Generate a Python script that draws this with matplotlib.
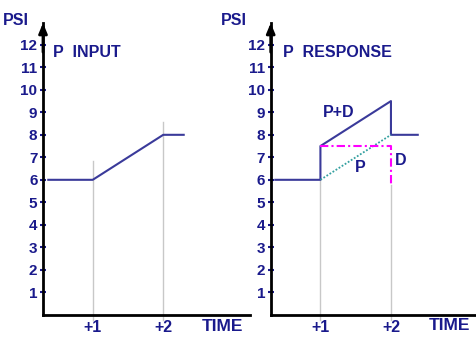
import matplotlib
matplotlib.use("Agg")
import matplotlib.pyplot as plt

plt.rcParams['font.family'] = ['Liberation Sans', 'DejaVu Sans']
plt.rcParams['font.weight'] = 'bold'

NAVY = '#1a1a8c'
LINE = '#3a3a9a'

# data
psi_ticks = list(range(1, 13))
time_ticks = [1, 2]
time_labels = ['+1', '+2']

input_t = [0.37, 1, 2, 2.29]
input_p = [6, 6, 8, 8]

pd_t = [0.36, 1, 1, 2, 2, 2.38]
pd_p = [6, 6, 7.5, 9.5, 8, 8]

p_t = [1, 2]
p_p = [6, 8]

d_t = [1, 2, 2]
d_p = [7.5, 7.5, 5.75]

# grid line tops (where the gray markers start)
grid_top_left = [6.84, 8.57]
grid_top_right = [6, 5.75]

W, H = 477, 358
fig = plt.figure(figsize=(W / 100, H / 100), dpi=100)

x0_px, y0_px, top_px = 43, 314.8, 23
ax1 = fig.add_axes([x0_px / W, (H - y0_px) / H, 207 / W, (y0_px - top_px) / H])
ax2 = fig.add_axes([270.7 / W, (H - y0_px) / H, 207 / W, (y0_px - top_px) / H])


def setup(ax, grid_tops):
    ax.set_xlim(0.295, 3.23)
    ax.set_ylim(0, 12.97)
    for s in ['top', 'right']:
        ax.spines[s].set_visible(False)
    for s in ['left', 'bottom']:
        ax.spines[s].set_linewidth(2)
        ax.spines[s].set_color('black')
    ax.set_yticks(psi_ticks)
    ax.set_yticklabels([str(v) for v in psi_ticks])
    ax.tick_params(axis='y', direction='inout', length=4, width=1.5,
                   color=NAVY, labelcolor=NAVY, labelsize=11, pad=2)
    ax.set_xticks([])
    for t, top in zip(time_ticks, grid_tops):
        ax.plot([t, t], [top, -0.23], color='#c8c8c8', lw=1, clip_on=False, zorder=1)
    for t, lab in zip(time_ticks, time_labels):
        ax.text(t, -0.57, lab, color=NAVY, fontsize=11.5, fontweight='bold',
                ha='center', va='center', clip_on=False)
    ax.annotate('', xy=(0, 1), xytext=(0, 0.9), xycoords='axes fraction',
                arrowprops=dict(arrowstyle='-|>,head_length=0.6,head_width=0.25',
                                color='black', lw=2, shrinkA=0, shrinkB=0))


setup(ax1, grid_top_left)
setup(ax2, grid_top_right)

# left panel
ax1.plot(input_t, input_p, color=LINE, lw=1.5, zorder=3)
ax1.text(-0.27, 13.06, 'PSI', color=NAVY, fontsize=11.5, ha='left', va='center', clip_on=False)
ax1.text(0.438, 11.68, 'P  INPUT', color=NAVY, fontsize=11.5, ha='left', va='center')
ax1.text(2.548, -0.5, 'TIME', color=NAVY, fontsize=12.5, ha='left', va='center', clip_on=False)

# right panel
ax2.plot(pd_t, pd_p, color=LINE, lw=1.5, zorder=3)
ax2.plot(p_t, p_p, color='#33a0a0', lw=1.3, ls=(0, (1, 1)), zorder=3)
ax2.plot(d_t, d_p, color='#ff00ff', lw=1.5, ls=(0, (4, 1.5, 1, 1.5)), zorder=3)
ax2.text(-0.41, 13.06, 'PSI', color=NAVY, fontsize=11.5, ha='left', va='center', clip_on=False)
ax2.text(0.47, 11.64, 'P  RESPONSE', color=NAVY, fontsize=11.5, ha='left', va='center')
ax2.text(1.04, 8.99, 'P+D', color=NAVY, fontsize=11.5, ha='left', va='center')
ax2.text(1.49, 6.55, 'P', color=NAVY, fontsize=11.5, ha='left', va='center')
ax2.text(2.06, 6.84, 'D', color=NAVY, fontsize=11.5, ha='left', va='center')
ax2.text(2.54, -0.49, 'TIME', color=NAVY, fontsize=12.5, ha='left', va='center', clip_on=False)

fig.savefig('out.png', dpi=100)
